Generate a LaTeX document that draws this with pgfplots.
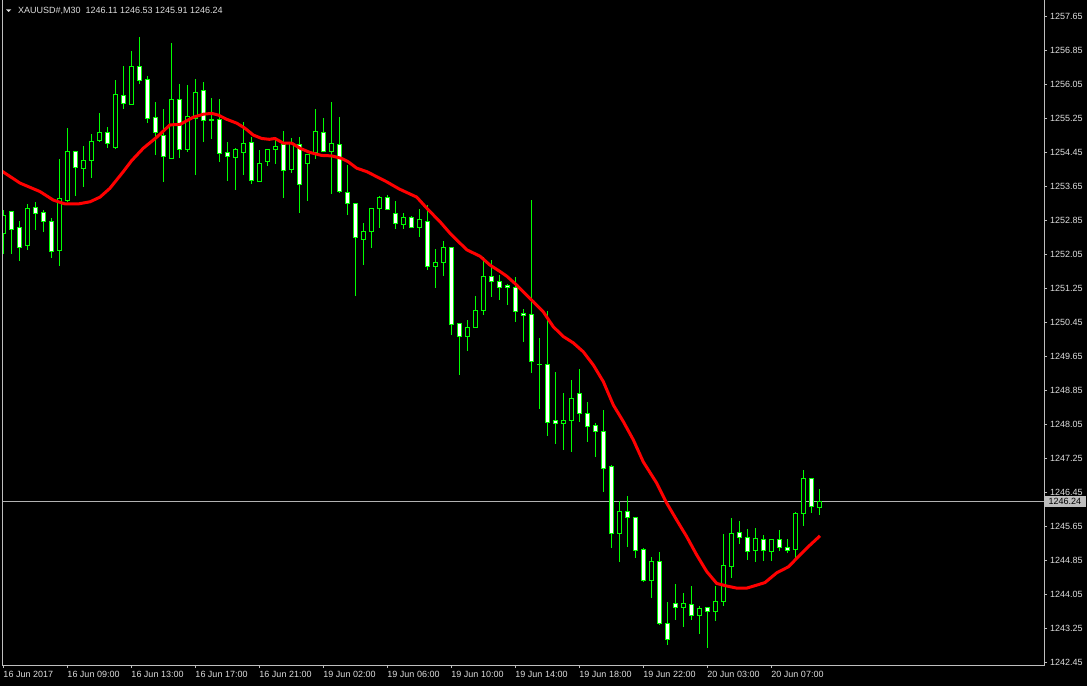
\documentclass[border=0pt]{standalone}
\usepackage{pgfplots}
\pgfplotsset{compat=1.18}
\usepackage{pgfplotstable}
\usepackage{fontspec}
\setmainfont{Liberation Sans}

\definecolor{mtgreen}{RGB}{0,255,0}
\definecolor{axgray}{RGB}{190,190,190}
\definecolor{txt}{RGB}{222,222,222}
\definecolor{lastline}{RGB}{178,178,178}

% XAUUSD M30 candles: bar index, open, high, low, close
\pgfplotstableread{
k o h l c
0 1252.57 1253.10 1252.08 1252.98
3 1252.28 1253.24 1252.16 1253.14
7 1252.14 1254.31 1251.78 1253.37
8 1253.34 1255.03 1253.29 1254.48
10 1254.09 1254.60 1253.65 1254.27
11 1254.27 1254.89 1253.86 1254.71
12 1254.73 1255.38 1254.71 1254.92
14 1254.56 1256.15 1254.54 1255.82
16 1255.58 1256.84 1255.58 1256.48
21 1254.33 1257.03 1254.33 1255.70
23 1254.54 1256.04 1254.47 1255.30
24 1255.26 1256.18 1253.92 1255.87
26 1255.22 1255.73 1254.77 1255.22
29 1254.34 1254.56 1253.58 1254.52
30 1254.47 1255.17 1253.93 1254.67
32 1253.79 1254.53 1253.79 1254.20
33 1254.24 1254.52 1254.13 1254.52
34 1254.52 1254.74 1254.18 1254.60
36 1254.05 1254.79 1253.98 1254.66
38 1254.20 1254.41 1253.32 1254.41
39 1254.45 1255.47 1254.30 1254.95
41 1254.48 1255.64 1253.48 1254.67
45 1252.42 1252.81 1251.81 1252.60
46 1252.60 1253.14 1252.21 1253.14
47 1253.14 1253.45 1252.68 1253.40
50 1252.75 1253.02 1252.66 1252.93
52 1252.69 1253.14 1252.47 1252.88
54 1251.77 1252.17 1251.25 1251.87
55 1251.87 1252.37 1251.55 1252.22
58 1250.13 1250.53 1249.79 1250.34
59 1250.34 1251.09 1250.34 1250.74
60 1250.74 1251.99 1250.64 1251.54
67 1249.48 1250.08 1248.41 1249.48
70 1248.08 1248.78 1247.44 1248.14
71 1248.15 1249.10 1247.41 1248.67
77 1245.49 1246.24 1244.82 1246.01
81 1244.38 1244.93 1243.98 1244.83
85 1243.74 1244.09 1243.29 1243.84
87 1243.55 1243.80 1243.12 1243.73
89 1243.65 1244.26 1243.44 1243.89
90 1243.88 1245.47 1243.79 1244.74
91 1244.73 1245.87 1244.45 1245.49
94 1245.08 1245.62 1244.82 1245.37
96 1245.06 1245.37 1244.85 1245.35
99 1245.11 1245.99 1244.89 1245.97
100 1245.96 1246.98 1245.67 1246.78
102 1246.11 1246.53 1245.91 1246.24
}\bull

\pgfplotstableread{
k o h l c
1 1253.07 1253.07 1252.06 1252.66
2 1252.69 1252.84 1251.91 1252.22
4 1253.16 1253.29 1252.63 1253.03
5 1253.04 1253.10 1252.60 1252.82
6 1252.83 1252.91 1251.97 1252.12
9 1254.48 1254.48 1253.45 1254.10
13 1254.92 1255.07 1254.56 1254.66
15 1255.80 1256.50 1255.48 1255.61
17 1256.48 1257.18 1256.08 1256.15
18 1256.17 1256.25 1255.15 1255.25
19 1255.28 1255.66 1254.41 1254.92
20 1254.85 1255.47 1253.76 1254.36
22 1255.70 1256.06 1254.33 1254.52
25 1255.91 1256.11 1254.71 1255.20
27 1255.23 1255.71 1254.23 1254.43
28 1254.45 1254.70 1253.79 1254.34
31 1254.69 1254.82 1253.72 1253.80
35 1254.66 1254.96 1253.39 1254.03
37 1254.64 1254.84 1253.03 1253.70
40 1254.92 1255.26 1254.48 1254.48
42 1254.64 1255.29 1253.50 1253.54
43 1253.51 1254.16 1253.00 1253.25
44 1253.25 1253.25 1251.08 1252.45
48 1253.40 1253.45 1253.08 1253.11
49 1253.02 1253.31 1252.66 1252.78
51 1252.93 1252.97 1252.69 1252.69
53 1252.83 1253.22 1251.69 1251.77
56 1252.22 1252.22 1250.16 1250.41
57 1250.43 1250.43 1249.22 1250.13
61 1251.54 1251.92 1251.06 1251.42
62 1251.42 1251.58 1250.99 1251.28
63 1251.33 1251.37 1250.87 1251.28
64 1251.28 1251.51 1250.45 1250.71
65 1250.67 1250.78 1250.00 1250.62
66 1250.64 1253.33 1249.27 1249.54
68 1249.46 1250.74 1247.79 1248.10
69 1248.14 1249.28 1247.58 1248.08
72 1248.78 1249.36 1248.12 1248.31
73 1248.31 1248.58 1247.65 1248.01
74 1248.03 1248.10 1247.29 1247.89
75 1247.89 1248.39 1246.47 1247.04
76 1247.07 1247.12 1245.15 1245.49
78 1246.01 1246.37 1245.18 1245.87
79 1245.87 1245.89 1244.92 1245.09
80 1245.10 1245.14 1244.35 1244.38
82 1244.83 1245.05 1243.34 1243.36
83 1243.37 1243.87 1242.86 1243.00
84 1243.84 1244.30 1243.45 1243.76
86 1243.82 1244.27 1243.46 1243.55
88 1243.75 1243.77 1242.79 1243.65
92 1245.51 1245.80 1245.25 1245.39
93 1245.40 1245.59 1244.87 1245.06
95 1245.35 1245.47 1244.85 1245.08
97 1245.35 1245.57 1245.08 1245.18
98 1245.18 1245.37 1245.04 1245.11
101 1246.78 1246.78 1245.98 1246.12
}\bear

% moving average (red line)
\pgfplotstableread{
k p
-0.40 1254.04
2.09 1253.73
4.59 1253.53
6.25 1253.33
7.71 1253.24
9.38 1253.24
10.84 1253.29
12.09 1253.40
13.34 1253.61
15.00 1254.00
16.05 1254.26
17.50 1254.55
19.18 1254.81
20.84 1255.10
22.09 1255.11
23.75 1255.28
25.00 1255.35
26.05 1255.37
26.88 1255.33
27.93 1255.23
29.18 1255.14
30.21 1255.02
31.25 1254.86
32.30 1254.78
33.25 1254.76
33.96 1254.78
35.00 1254.67
36.05 1254.67
37.09 1254.55
38.34 1254.45
39.80 1254.38
41.05 1254.37
42.30 1254.31
43.13 1254.23
44.18 1254.08
45.43 1254.00
46.68 1253.88
47.93 1253.76
49.50 1253.59
51.68 1253.40
53.13 1253.10
54.59 1252.82
55.84 1252.55
57.93 1252.16
59.59 1252.01
60.84 1251.80
62.09 1251.65
62.93 1251.54
64.18 1251.33
65.00 1251.17
66.25 1250.94
67.50 1250.70
68.75 1250.35
70.00 1250.12
71.25 1249.97
72.50 1249.76
73.75 1249.45
75.00 1249.06
76.25 1248.51
77.50 1248.12
78.75 1247.69
80.00 1247.17
81.68 1246.67
82.93 1246.20
84.18 1245.80
85.43 1245.41
86.68 1244.98
87.93 1244.59
89.18 1244.31
90.43 1244.25
91.68 1244.20
92.93 1244.20
94.18 1244.27
95.21 1244.33
96.68 1244.56
98.13 1244.70
99.18 1244.90
100.43 1245.14
102.09 1245.43
}\ma

\pgfplotsset{
  candle/.style 2 args={draw=none, mark=none, forget plot,
    error bars/.cd, y dir=both, y explicit, error mark=none,
    error bar style={draw=#1, line width=#2, line cap=butt}},
}

\begin{document}
\begin{tikzpicture}
\fill[black, use as bounding box] (0,0) rectangle (1087bp,686bp);
\begin{axis}[
  at={(2.7bp,21bp)}, anchor=south west,
  width=1041.3bp, height=665bp, scale only axis,
  xmin=-0.075, xmax=130.09,
  ymin=1242.391, ymax=1258.038,
  clip mode=individual,
  axis line style={draw=none},
  tick align=outside,
  major tick length=3bp,
  every tick/.style={axgray, line width=1bp},
  xtick pos=bottom, ytick pos=right,
  yticklabel pos=right,
  xtick={0,8,...,96},
  xticklabels={16 Jun 2017, 16 Jun 09:00, 16 Jun 13:00, 16 Jun 17:00,
    16 Jun 21:00, 19 Jun 02:00, 19 Jun 06:00, 19 Jun 10:00,
    19 Jun 14:00, 19 Jun 18:00, 19 Jun 22:00, 20 Jun 03:00, 20 Jun 07:00},
  ytick={1242.45,1243.25,1244.05,1244.85,1245.65,1246.45,1247.25,
    1248.05,1248.85,1249.65,1250.45,1251.25,1252.05,1252.85,1253.65,
    1254.45,1255.25,1256.05,1256.85,1257.65},
  ticklabel style={font=\fontsize{9bp}{10bp}\selectfont, text=txt},
  xticklabel style={anchor=north west, inner sep=0pt, yshift=-3bp},
  yticklabel style={anchor=west, inner sep=0pt, xshift=3bp,
    /pgf/number format/.cd, fixed, fixed zerofill, precision=2,
    1000 sep={}, assume math mode=true},
]
% last price line
\addplot[lastline, line width=1bp, forget plot] coordinates {(-1,1246.24) (131,1246.24)};

% wicks
\addplot[candle={mtgreen}{1bp}] table[x=k, y expr={(\thisrow{h}+\thisrow{l})/2},
  y error expr={(\thisrow{h}-\thisrow{l})/2}] {\bull};
\addplot[candle={mtgreen}{1bp}] table[x=k, y expr={(\thisrow{h}+\thisrow{l})/2},
  y error expr={(\thisrow{h}-\thisrow{l})/2}] {\bear};

% body outlines
\addplot[candle={mtgreen}{5bp}] table[x=k, y expr={(\thisrow{o}+\thisrow{c})/2},
  y error expr={abs(\thisrow{c}-\thisrow{o})/2+0.0118}] {\bull};
\addplot[candle={mtgreen}{5bp}] table[x=k, y expr={(\thisrow{o}+\thisrow{c})/2},
  y error expr={abs(\thisrow{c}-\thisrow{o})/2+0.0118}] {\bear};

% body fills: bull black, bear white
\addplot[candle={black}{3bp}] table[x=k, y expr={(\thisrow{o}+\thisrow{c})/2},
  y error expr={max(abs(\thisrow{c}-\thisrow{o})/2-0.0118,0)}] {\bull};
\addplot[candle={white}{3bp}] table[x=k, y expr={(\thisrow{o}+\thisrow{c})/2},
  y error expr={max(abs(\thisrow{c}-\thisrow{o})/2-0.0118,0)}] {\bear};

% moving average
\addplot[red, line width=3bp, line join=round, mark=none] table[x=k, y=p] {\ma};

% frame
\draw[axgray, line width=1bp] (rel axis cs:0,1) -- (rel axis cs:0,0) -- (rel axis cs:1,0) -- (rel axis cs:1,1);

% last price tag
\node[fill=axgray, text=black, anchor=west, inner xsep=4.5bp, inner ysep=2bp,
  font=\fontsize{9bp}{10bp}\selectfont] at (axis cs:130.09,1246.24) {1246.24};
\end{axis}

% chart title
\fill[txt] (6bp,676.7bp) -- (11.3bp,676.7bp) -- (8.65bp,674bp) -- cycle;
\node[anchor=west, inner sep=0pt, text=txt, font=\fontsize{9bp}{10bp}\selectfont]
  at (18bp,675.5bp) {XAUUSD\#,M30\ \ 1246.11 1246.53 1245.91 1246.24};
\end{tikzpicture}
\end{document}
